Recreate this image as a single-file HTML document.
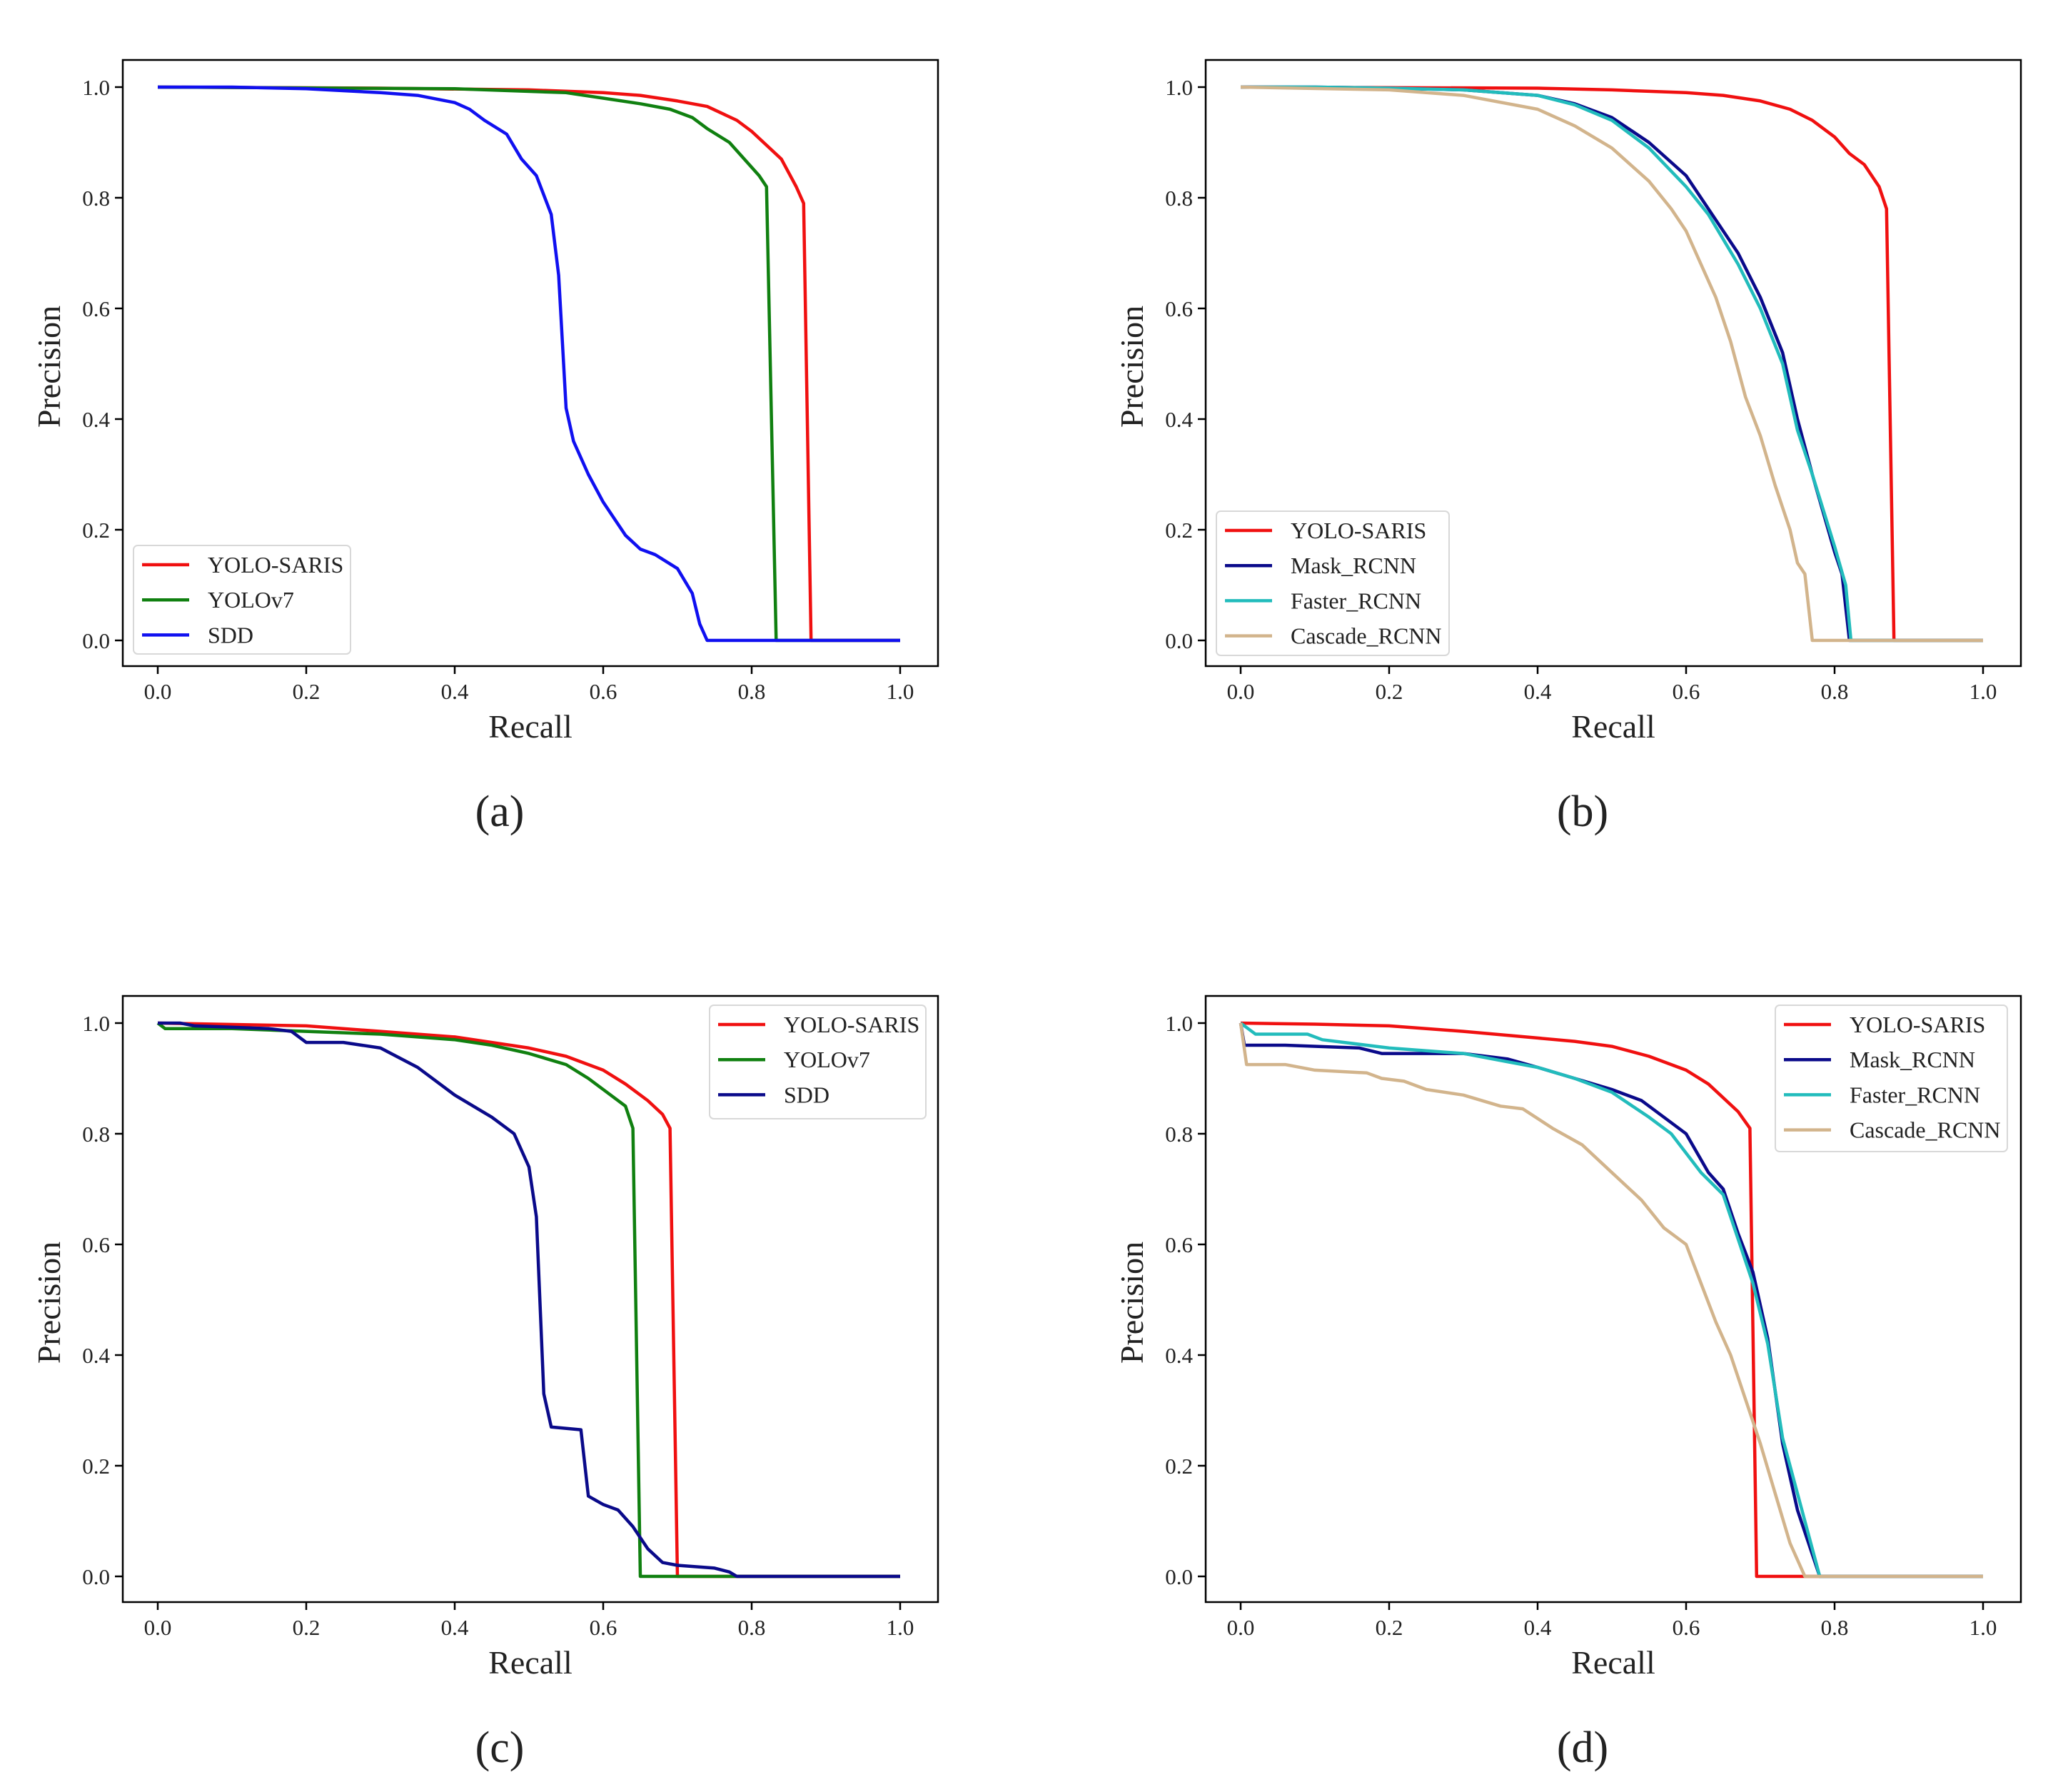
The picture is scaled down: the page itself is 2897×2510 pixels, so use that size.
<!DOCTYPE html>
<html><head><meta charset="utf-8"><style>
html,body{margin:0;padding:0;background:#fff;}
svg{display:block;}
text{font-family:"Liberation Serif",serif;fill:#222;}
</style></head><body>
<svg id="fig" width="2897" height="2510" viewBox="0 0 2897 2510" xmlns="http://www.w3.org/2000/svg"></svg>
<script>
// ---- data (recall, precision) ----
const panelLabels = ["(a)", "(b)", "(c)", "(d)"];
const xTicks = [0, 0.2, 0.4, 0.6, 0.8, 1.0];
const yTicks = [0, 0.2, 0.4, 0.6, 0.8, 1.0];

const aNames = ["YOLO-SARIS", "YOLOv7", "SDD"];
const aRed = [[0,1],[0.3,0.998],[0.5,0.995],[0.6,0.99],[0.65,0.985],[0.7,0.975],[0.74,0.965],[0.78,0.94],[0.8,0.92],[0.82,0.895],[0.84,0.87],[0.86,0.82],[0.87,0.79],[0.88,0],[1,0]];
const aGreen = [[0,1],[0.4,0.997],[0.55,0.99],[0.6,0.98],[0.65,0.97],[0.69,0.96],[0.72,0.945],[0.74,0.925],[0.77,0.9],[0.79,0.87],[0.81,0.84],[0.82,0.82],[0.833,0],[1,0]];
const aBlue = [[0,1],[0.1,1],[0.2,0.997],[0.3,0.99],[0.35,0.985],[0.4,0.972],[0.42,0.96],[0.44,0.94],[0.47,0.915],[0.49,0.87],[0.51,0.84],[0.53,0.77],[0.54,0.66],[0.55,0.42],[0.56,0.36],[0.58,0.3],[0.6,0.25],[0.63,0.19],[0.65,0.165],[0.67,0.155],[0.7,0.13],[0.72,0.085],[0.73,0.03],[0.74,0],[1,0]];

const bNames = ["YOLO-SARIS", "Mask_RCNN", "Faster_RCNN", "Cascade_RCNN"];
const bRed = [[0,1],[0.4,0.998],[0.5,0.995],[0.6,0.99],[0.65,0.985],[0.7,0.975],[0.74,0.96],[0.77,0.94],[0.8,0.91],[0.82,0.88],[0.84,0.86],[0.86,0.82],[0.87,0.78],[0.88,0],[1,0]];
const bMask = [[0,1],[0.1,1],[0.2,0.998],[0.3,0.995],[0.4,0.985],[0.45,0.97],[0.5,0.945],[0.55,0.9],[0.6,0.84],[0.63,0.78],[0.67,0.7],[0.7,0.62],[0.73,0.52],[0.75,0.4],[0.77,0.3],[0.8,0.16],[0.81,0.12],[0.82,0],[1,0]];
const bFaster = [[0,1],[0.1,1],[0.2,0.998],[0.3,0.995],[0.4,0.985],[0.45,0.968],[0.5,0.94],[0.55,0.89],[0.6,0.82],[0.63,0.77],[0.67,0.68],[0.7,0.6],[0.73,0.5],[0.75,0.38],[0.77,0.3],[0.8,0.17],[0.815,0.1],[0.822,0],[1,0]];
const bCascade = [[0,1],[0.2,0.995],[0.3,0.985],[0.4,0.96],[0.45,0.93],[0.5,0.89],[0.55,0.83],[0.58,0.78],[0.6,0.74],[0.62,0.68],[0.64,0.62],[0.66,0.54],[0.68,0.44],[0.7,0.37],[0.72,0.28],[0.74,0.2],[0.75,0.14],[0.76,0.12],[0.77,0],[1,0]];

const cNames = ["YOLO-SARIS", "YOLOv7", "SDD"];
const cRed = [[0,1],[0.2,0.995],[0.3,0.985],[0.4,0.975],[0.45,0.965],[0.5,0.955],[0.55,0.94],[0.6,0.915],[0.63,0.89],[0.66,0.86],[0.68,0.835],[0.69,0.81],[0.7,0],[1,0]];
const cGreen = [[0,1],[0.01,0.99],[0.1,0.99],[0.2,0.985],[0.3,0.98],[0.4,0.97],[0.45,0.96],[0.5,0.945],[0.55,0.925],[0.58,0.9],[0.6,0.88],[0.63,0.85],[0.64,0.81],[0.65,0],[1,0]];
const cBlue = [[0,1],[0.03,1],[0.05,0.995],[0.15,0.99],[0.18,0.985],[0.2,0.965],[0.25,0.965],[0.3,0.955],[0.35,0.92],[0.4,0.87],[0.45,0.83],[0.48,0.8],[0.5,0.74],[0.51,0.65],[0.52,0.33],[0.53,0.27],[0.57,0.265],[0.58,0.145],[0.6,0.13],[0.62,0.12],[0.64,0.09],[0.66,0.05],[0.68,0.025],[0.7,0.02],[0.75,0.015],[0.77,0.008],[0.78,0],[1,0]];

const dNames = ["YOLO-SARIS", "Mask_RCNN", "Faster_RCNN", "Cascade_RCNN"];
const dRed = [[0,1],[0.1,0.998],[0.2,0.995],[0.3,0.985],[0.4,0.973],[0.45,0.967],[0.5,0.958],[0.55,0.94],[0.6,0.915],[0.63,0.89],[0.65,0.865],[0.67,0.84],[0.686,0.81],[0.695,0],[1,0]];
const dMask = [[0,1],[0.005,0.96],[0.06,0.96],[0.16,0.955],[0.19,0.945],[0.3,0.945],[0.36,0.935],[0.4,0.92],[0.45,0.9],[0.5,0.88],[0.54,0.86],[0.58,0.82],[0.6,0.8],[0.63,0.73],[0.65,0.7],[0.67,0.62],[0.69,0.55],[0.71,0.43],[0.73,0.24],[0.75,0.12],[0.77,0.04],[0.78,0],[1,0]];
const dFaster = [[0,1],[0.02,0.98],[0.09,0.98],[0.11,0.97],[0.2,0.955],[0.3,0.945],[0.36,0.93],[0.4,0.92],[0.45,0.9],[0.5,0.875],[0.55,0.83],[0.58,0.8],[0.62,0.73],[0.65,0.69],[0.67,0.61],[0.69,0.53],[0.71,0.42],[0.73,0.25],[0.75,0.15],[0.78,0],[1,0]];
const dCascade = [[0,1],[0.008,0.925],[0.06,0.925],[0.1,0.915],[0.17,0.91],[0.19,0.9],[0.22,0.895],[0.25,0.88],[0.3,0.87],[0.35,0.85],[0.38,0.845],[0.42,0.81],[0.46,0.78],[0.5,0.73],[0.54,0.68],[0.57,0.63],[0.6,0.6],[0.62,0.53],[0.64,0.46],[0.66,0.4],[0.68,0.32],[0.7,0.24],[0.72,0.15],[0.74,0.06],[0.76,0],[1,0]];

const RED="#f01010", GREEN="#108010", BLUE="#1010f0", NAVY="#0a0a8a", CYAN="#22bcbc", TAN="#d2b48c";

const NS="http://www.w3.org/2000/svg";
const svg=document.getElementById('fig');
function mk(tag,attrs,parent){const e=document.createElementNS(NS,tag);for(const k in attrs)e.setAttribute(k,attrs[k]);(parent||svg).appendChild(e);return e;}

const panels=[
 {dx:0,dy:0,series:[aRed,aGreen,aBlue],colors:[RED,GREEN,BLUE],names:aNames,leg:{x:187,y:764,w:304,h:152}},
 {dx:1517,dy:0,series:[bRed,bMask,bFaster,bCascade],colors:[RED,NAVY,CYAN,TAN],names:bNames,leg:{x:1704,y:716,w:326,h:202}},
 {dx:0,dy:1311,series:[cRed,cGreen,cBlue],colors:[RED,GREEN,NAVY],names:cNames,leg:{x:994,y:1408,w:303,h:159}},
 {dx:1517,dy:1311,series:[dRed,dMask,dFaster,dCascade],colors:[RED,NAVY,CYAN,TAN],names:dNames,leg:{x:2487,y:1408,w:325,h:205}}
];

panels.forEach((p,i)=>{
  const g=mk('g',{});
  
  
  const L=172+p.dx,R=1314+p.dx,T=84+p.dy,B=933+p.dy;
  const x0=221+p.dx,x1=1261+p.dx,y1=122+p.dy,y0=897+p.dy;
  const xs=v=>x0+(x1-x0)*v, ys=v=>y0-(y0-y1)*v;
  xTicks.forEach(t=>{
    mk('line',{x1:xs(t),x2:xs(t),y1:B,y2:B+11,stroke:'#000','stroke-width':2.5},g);
    const tx=mk('text',{x:xs(t),y:B+46,'text-anchor':'middle','font-size':31},g);
    tx.textContent=t.toFixed(1);
    
    
  });
  yTicks.forEach(t=>{
    mk('line',{x1:L-11,x2:L,y1:ys(t),y2:ys(t),stroke:'#000','stroke-width':2.5},g);
    const tx=mk('text',{x:L-18,y:ys(t)+11,'text-anchor':'end','font-size':31},g);
    tx.textContent=t.toFixed(1);
    
    
  });
  p.series.forEach((s,k)=>{
    const d=s.map((pt,j)=>(j?'L':'M')+xs(pt[0]).toFixed(1)+' '+ys(pt[1]).toFixed(1)).join(' ');
    const path=mk('path',{d:d,fill:'none',stroke:p.colors[k],'stroke-width':4.5,'stroke-linejoin':'round'},g);
    
    
  });
  const fr=mk('rect',{x:L,y:T,width:R-L,height:B-T,fill:'none',stroke:'#000','stroke-width':2.5},g);
  
  
  const xt=mk('text',{x:(L+R)/2,y:B+100,'text-anchor':'middle','font-size':46},g);
  xt.textContent='Recall';
  
  
  const yc=(T+B)/2;
  const yt=mk('text',{x:0,y:0,'text-anchor':'middle','font-size':46,transform:'translate('+(84+p.dx)+','+(yc+5)+') rotate(-90)'},g);
  yt.textContent='Precision';
  
  
  const pl=mk('text',{x:700+p.dx,y:1157+p.dy,'text-anchor':'middle','font-size':62},g);
  pl.textContent=panelLabels[i];
  
  
  const lg=mk('g',{},g);
  
  
  mk('rect',{x:p.leg.x,y:p.leg.y,width:p.leg.w,height:p.leg.h,rx:6,fill:'#fff','fill-opacity':0.9,stroke:'#d8d8d8','stroke-width':2},lg);
  const step=49.2, first=p.leg.y+27;
  p.names.forEach((nm,k)=>{
    const yy=first+k*step;
    const ln=mk('line',{x1:p.leg.x+12,x2:p.leg.x+78,y1:yy,y2:yy,stroke:p.colors[k],'stroke-width':4.5},lg);
    
    
    const t=mk('text',{x:p.leg.x+104,y:yy+11,'font-size':32},lg);
    t.textContent=nm;
    
    
  });
});
</script>
</body></html>
